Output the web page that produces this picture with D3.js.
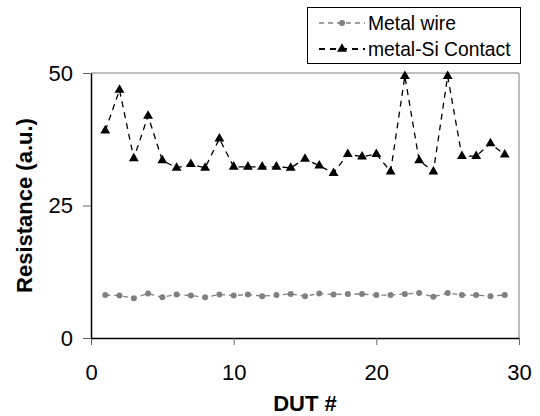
<!DOCTYPE html>
<html>
<head>
<meta charset="utf-8">
<script src="https://cdn.jsdelivr.net/npm/d3@7"></script>
<style>
  html, body { margin: 0; padding: 0; background: #fff; }
  svg { display: block; font-family: "Liberation Sans", Arial, sans-serif; }
</style>
</head>
<body>
<svg id="chart" width="540" height="416"></svg>
<script>
// DUT index (x) for each measurement
const dut = [1,2,3,4,5,6,7,8,9,10,11,12,13,14,15,16,17,18,19,20,21,22,23,24,25,26,27,28,29];
// Resistance of the plain metal wire
const metalWire = [8.1,8.0,7.5,8.4,7.7,8.2,8.0,7.7,8.2,8.0,8.2,7.9,8.1,8.3,7.9,8.4,8.2,8.3,8.3,8.1,8.1,8.3,8.5,7.8,8.5,8.1,8.1,7.9,8.1];
// Resistance of the metal-Si contact chain
const siContact = [39.1,46.8,33.9,41.9,33.5,32.1,32.8,32.1,37.6,32.3,32.3,32.3,32.3,32.1,33.8,32.5,31.1,34.7,34.2,34.7,31.4,49.4,33.5,31.4,49.4,34.3,34.3,36.7,34.6];
const xTicks = [0,10,20,30];
const yTicks = [0,25,50];
const seriesNames = ["Metal wire", "metal-Si Contact"];

const svg = d3.select("#chart");
const margin = {left: 91, right: 21, top: 73, bottom: 78};
const W = 540, H = 416;

const x = d3.scaleLinear().domain([0, 30]).range([margin.left, W - margin.right]);
const y = d3.scaleLinear().domain([0, 50]).range([H - margin.bottom, margin.top]);

// plot frame (top/right in gray)
svg.append("path")
  .attr("d", `M${x(0)},${y(50)}H${x(30)}V${y(0)}`)
  .attr("fill", "none").attr("stroke", "#808080").attr("stroke-width", 1);

// axes
const xAxis = svg.append("g")
  .attr("transform", `translate(0,${y(0)})`)
  .call(d3.axisBottom(x).tickValues(xTicks).tickSize(7).tickPadding(19).tickSizeOuter(0));
const yAxis = svg.append("g")
  .attr("transform", `translate(${x(0)},0)`)
  .call(d3.axisLeft(y).tickValues(yTicks).tickSize(8).tickPadding(10).tickSizeOuter(0));

[xAxis, yAxis].forEach(g => {
  g.select(".domain").attr("stroke", "#000").attr("stroke-width", 1.5);
  g.selectAll(".tick line").attr("stroke", "#666");
  g.selectAll(".tick text").attr("fill", "#000").style("font-size", "22px")
    .style("font-family", "'Liberation Sans', Arial, sans-serif");
});

// axis titles
svg.append("text")
  .attr("x", (x(0) + x(30)) / 2).attr("y", 411)
  .attr("text-anchor", "middle")
  .style("font-size", "22px").style("font-weight", "bold")
  .text("DUT #");
svg.append("text")
  .attr("transform", `translate(32,${(y(0) + y(50)) / 2}) rotate(-90)`)
  .attr("text-anchor", "middle")
  .style("font-size", "22px").style("font-weight", "bold")
  .text("Resistance (a.u.)");

const line = d3.line().x(d => x(d[0])).y(d => y(d[1]));
const wirePts = dut.map((d, i) => [d, metalWire[i]]);
const siPts = dut.map((d, i) => [d, siContact[i]]);

const tri = d3.symbol().type(d3.symbolTriangle).size(42);

// metal wire series
svg.append("path").datum(wirePts)
  .attr("d", line).attr("fill", "none")
  .attr("stroke", "#808080").attr("stroke-width", 1.3).attr("stroke-dasharray", "5,4");
svg.append("g").selectAll("circle").data(wirePts).join("circle")
  .attr("cx", d => x(d[0])).attr("cy", d => y(d[1])).attr("r", 3)
  .attr("fill", "#808080");

// metal-Si contact series
svg.append("path").datum(siPts)
  .attr("d", line).attr("fill", "none")
  .attr("stroke", "#000").attr("stroke-width", 1.3).attr("stroke-dasharray", "6,5");
svg.append("g").selectAll("path").data(siPts).join("path")
  .attr("d", tri)
  .attr("transform", d => `translate(${x(d[0])},${y(d[1])})`)
  .attr("fill", "#000");

// legend
const lg = svg.append("g");
lg.append("rect").attr("x", 307.5).attr("y", 7.5).attr("width", 213).attr("height", 56)
  .attr("fill", "#fff").attr("stroke", "#000").attr("stroke-width", 1);
const legendRows = [
  {name: seriesNames[0], color: "#808080", dash: "5,4", marker: "circle", cy: 23},
  {name: seriesNames[1], color: "#000", dash: "6,5", marker: "tri", cy: 49}
];
legendRows.forEach(r => {
  lg.append("line").attr("x1", 319).attr("x2", 365).attr("y1", r.cy).attr("y2", r.cy)
    .attr("stroke", r.color).attr("stroke-width", r.marker === "tri" ? 2 : 1.5)
    .attr("stroke-dasharray", r.dash);
  if (r.marker === "circle") {
    lg.append("circle").attr("cx", 342).attr("cy", r.cy).attr("r", 3).attr("fill", r.color);
  } else {
    lg.append("path").attr("d", tri).attr("transform", `translate(342,${r.cy})`).attr("fill", r.color);
  }
  lg.append("text").attr("x", 368).attr("y", r.cy).attr("dy", "0.36em")
    .style("font-size", "19.3px").attr("fill", "#000").text(r.name);
});
</script>
</body>
</html>
